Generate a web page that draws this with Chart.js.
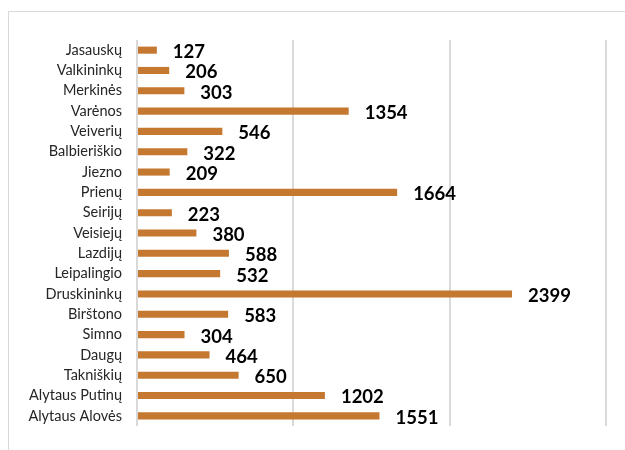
<!DOCTYPE html>
<html lang="lt">
<head>
    <meta charset="UTF-8">
    <title>Seniūnijos</title>
    <style>
        html, body {
            margin: 0;
            padding: 0;
            width: 625px;
            height: 450px;
            overflow: hidden;
            background: #fff;
        }
        .frame {
            position: absolute;
            left: 8px;
            top: 11px;
            width: 700px;
            height: 500px;
            border: 1px solid #d9d9d9;
        }
        .chart-box {
            position: absolute;
            left: 0;
            top: 0;
            width: 625px;
            height: 450px;
        }
    </style>
    <script src="https://cdn.jsdelivr.net/npm/chart.js"></script>
</head>
<body>
    <div class="frame"></div>
    <div class="chart-box">
        <canvas id="chart" width="625" height="450"></canvas>
    </div>

    <script>
        const categories = ['Jasauskų', 'Valkininkų', 'Merkinės', 'Varėnos', 'Veiverių', 'Balbieriškio',
            'Jiezno', 'Prienų', 'Seirijų', 'Veisiejų', 'Lazdijų', 'Leipalingio', 'Druskininkų',
            'Birštono', 'Simno', 'Daugų', 'Takniškių', 'Alytaus Putinų', 'Alytaus Alovės'];
        const values = [127, 206, 303, 1354, 546, 322, 209, 1664, 223, 380, 588, 532, 2399,
            583, 304, 464, 650, 1202, 1551];
        const xTicks = [0, 1000, 2000, 3000];

        // value labels drawn after the bars, next to each bar end
        const valueLabels = {
            id: 'valueLabels',
            afterDatasetsDraw(chart) {
                const ctx = chart.ctx;
                const meta = chart.getDatasetMeta(0);
                ctx.save();
                ctx.font = 'bold 18.5px Lato, "Open Sans", sans-serif';
                ctx.fillStyle = '#000';
                ctx.textAlign = 'left';
                ctx.textBaseline = 'middle';
                meta.data.forEach((bar, i) => {
                    ctx.fillText(values[i], bar.x + 16, bar.y + 2);
                });
                ctx.restore();
            }
        };

        new Chart(document.getElementById('chart'), {
            type: 'bar',
            data: {
                labels: categories,
                datasets: [{
                    data: values,
                    backgroundColor: '#C5782F',
                    borderWidth: 0,
                    barPercentage: 0.35,
                    categoryPercentage: 1
                }]
            },
            options: {
                indexAxis: 'y',
                responsive: false,
                animation: false,
                layout: {
                    padding: { left: 0, right: 19, top: 40, bottom: 24 }
                },
                plugins: {
                    legend: { display: false },
                    tooltip: { enabled: false }
                },
                scales: {
                    x: {
                        min: xTicks[0],
                        max: xTicks[xTicks.length - 1],
                        afterBuildTicks: (scale) => {
                            scale.ticks = xTicks.map(v => ({ value: v }));
                        },
                        ticks: { display: false },
                        border: { display: false },
                        grid: {
                            color: '#d9d9d9',
                            lineWidth: 2,
                            drawTicks: false
                        }
                    },
                    y: {
                        afterFit: (scale) => {
                            scale.width = 137;
                        },
                        border: { display: false },
                        grid: { display: false, drawTicks: false },
                        ticks: {
                            autoSkip: false,
                            color: '#262626',
                            padding: 15,
                            font: { family: 'Lato, "Open Sans", sans-serif', size: 14.5 }
                        }
                    }
                }
            },
            plugins: [valueLabels]
        });
    </script>
</body>
</html>
